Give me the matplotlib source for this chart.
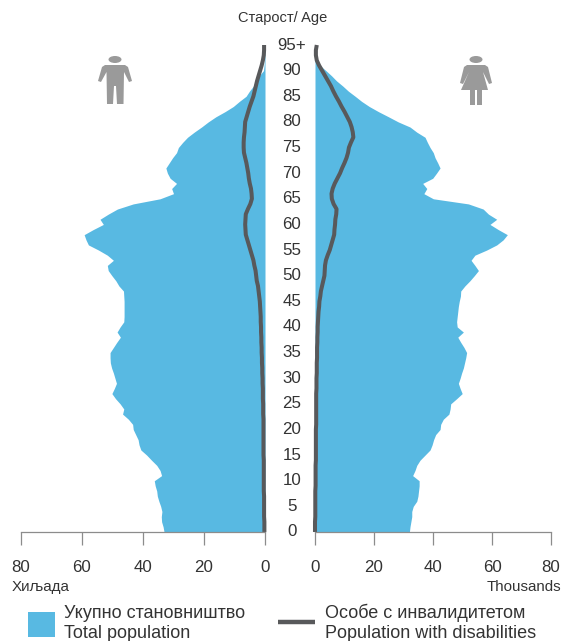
import matplotlib
matplotlib.use('Agg')
import matplotlib.pyplot as plt
from matplotlib.patches import Ellipse, Polygon, Rectangle

plt.rcParams['font.family'] = ['Liberation Sans', 'DejaVu Sans']

ages = list(range(0, 96))
male_total = [33.1, 33.4, 33.9, 34, 33.8, 34.2, 34.8, 35.3, 35.5, 36,
              36.3, 33.9, 34.4, 35.5, 37.2, 38.8, 40.7, 41.3, 41.6, 42.4,
              43.2, 43.4, 44.8, 46.7, 46.3, 47.5, 49, 50.2, 49.4, 48.7,
              49.2, 49.7, 50.3, 50.7, 50.8, 50.8, 49.7, 48.6, 47.4, 48.5,
              47.5, 46.3, 46.2, 46.2, 46.2, 46.2, 46.3, 46.4, 47.9, 48.9,
              50.2, 51.4, 51.7, 49.7, 51.7, 54.6, 57.9, 58.7, 59.3, 56.3,
              53, 54.1, 51.4, 48.4, 43.2, 34.4, 30, 30.6, 29, 31.1,
              32, 32.5, 31.4, 30.3, 29, 28.4, 27, 25.4, 23.2, 20.8,
              18.6, 16.1, 13.1, 10.4, 8.4, 6.2, 5.1, 3.8, 3.1, 1.9,
              0.5, 0.3, 0.2, 0.1, 0.1, 0]
female_total = [32, 32.2, 32.5, 32.8, 32.8, 33.3, 34.5, 34.9, 35.1, 35.3,
                35.3, 33.1, 33.9, 34.5, 35.6, 37.3, 39, 39.7, 40.2, 40.9,
                42.4, 42.6, 43.5, 45.4, 45.8, 46, 48, 49.9, 49.2, 48.6,
                49.2, 49.7, 50.3, 50.7, 51.1, 51.4, 50.5, 49.4, 48.4, 50.3,
                48.2, 48, 48.2, 48.4, 48.6, 48.9, 49.3, 49.4, 50.8, 52.5,
                54, 55.4, 54.2, 52.9, 54.2, 58.2, 61.6, 63.8, 65.2, 62.1,
                59.3, 61.6, 58.8, 57, 52, 40.1, 36.9, 37.9, 36.5, 39.9,
                41.2, 42.4, 41.6, 40.7, 40.1, 39, 38.1, 37.3, 34.5, 32.2,
                28.2, 24.9, 21.5, 18.4, 15.8, 13.6, 11.3, 9.4, 7.3, 5.6,
                3.7, 1.7, 0.6, 0.2, 0.1, 0]
male_disab = [0.2, 0.2, 0.2, 0.3, 0.3, 0.3, 0.3, 0.3, 0.4, 0.4,
              0.4, 0.4, 0.4, 0.4, 0.4, 0.5, 0.5, 0.5, 0.5, 0.5,
              0.5, 0.5, 0.5, 0.6, 0.6, 0.6, 0.7, 0.7, 0.7, 0.8,
              0.8, 0.9, 0.9, 1, 1, 1.1, 1.1, 1.2, 1.2, 1.3,
              1.3, 1.4, 1.4, 1.5, 1.6, 1.7, 1.9, 2.1, 2.3, 2.7,
              2.9, 3.1, 3.5, 3.8, 4.3, 4.8, 5.3, 5.8, 6.3, 6.4,
              6.5, 6.4, 6.3, 5.6, 4.8, 4.3, 4.4, 4.6, 5, 5.3,
              5.5, 5.8, 6.1, 6.5, 6.9, 7, 7, 6.9, 6.7, 6.6,
              6.5, 6, 5.5, 5, 4.4, 3.8, 3.4, 3, 2.6, 2.1,
              1.6, 1.1, 0.7, 0.4, 0.3, 0.3]
female_disab = [0, 0, 0, 0.1, 0.1, 0.1, 0.1, 0.1, 0.1, 0.2,
                0.2, 0.2, 0.2, 0.2, 0.3, 0.3, 0.3, 0.3, 0.3, 0.3,
                0.3, 0.4, 0.4, 0.4, 0.4, 0.4, 0.4, 0.4, 0.5, 0.5,
                0.5, 0.6, 0.6, 0.6, 0.7, 0.7, 0.7, 0.8, 0.8, 0.9,
                0.9, 1, 1.1, 1.2, 1.4, 1.5, 1.8, 2, 2.4, 2.8,
                3.2, 3.3, 3.4, 3.7, 4.3, 5, 5.5, 6, 6.5, 6.6,
                6.8, 6.9, 7.2, 7.3, 6.3, 5.7, 5.6, 6, 6.7, 7.6,
                8.5, 9.2, 10, 10.7, 11.2, 11.5, 12.2, 13, 12.8, 12.4,
                11.8, 10.9, 10, 9, 8.1, 7.1, 6.2, 5.4, 4.4, 3.4,
                2.4, 1.4, 0.6, 0.3, 0.3, 0.6]

age_ticks = [0, 5, 10, 15, 20, 25, 30, 35, 40, 45, 50, 55, 60, 65, 70, 75, 80, 85, 90, 95]
age_labels = ['0', '5', '10', '15', '20', '25', '30', '35', '40', '45',
              '50', '55', '60', '65', '70', '75', '80', '85', '90', '95+']
x_ticks = [0, 20, 40, 60, 80]

W, H = 561, 641
BLUE = '#58B9E2'
DARK = '#58595B'
GRAY = '#8C8C8C'
ICON = '#9A9A9A'
TXT = '#333333'
FS = 12.2

fig = plt.figure(figsize=(W / 100, H / 100), dpi=100)


def px_axes(x0, x1, ytop, ybot):
    return fig.add_axes([x0 / W, 1 - ybot / H, (x1 - x0) / W, (ybot - ytop) / H])


ytop, ybot = 45.0, 532.0
ax_l = px_axes(21, 265, ytop, ybot)
ax_r = px_axes(315, 551, ytop, ybot)

ax_l.fill_betweenx(ages, 0, male_total, color=BLUE, lw=0)
ax_l.plot(male_disab, ages, color=DARK, lw=2.9, solid_capstyle='butt', clip_on=False)
ax_l.set_xlim(80, 0)

ax_r.fill_betweenx(ages, 0, female_total, color=BLUE, lw=0)
ax_r.plot(female_disab, ages, color=DARK, lw=2.9, solid_capstyle='butt', clip_on=False)
ax_r.set_xlim(0, 80)

for ax in (ax_l, ax_r):
    ax.set_ylim(0, 95)
    ax.set_yticks([])
    ax.set_xticks(x_ticks)
    ax.tick_params(axis='x', length=9.6, width=0.9, color=GRAY, pad=10.5,
                   labelsize=FS, labelcolor=TXT)
    for s in ('top', 'left', 'right'):
        ax.spines[s].set_visible(False)
    ax.spines['bottom'].set_color(GRAY)
    ax.spines['bottom'].set_linewidth(0.9)
    ax.patch.set_alpha(0)

for a, lab in zip(age_ticks, age_labels):
    ax_r.text(-7.8, a, lab, ha='center', va='center', fontsize=FS, color=TXT, clip_on=False)

# overlay in pixel coords for the title, notes, legend and icons
ov = fig.add_axes([0, 0, 1, 1], zorder=5)
ov.set_xlim(0, W)
ov.set_ylim(H, 0)
ov.axis('off')

ov.text(283, 18, 'Старост/ Age', ha='center', va='center', fontsize=10.5, color=TXT)
ov.text(12, 587, 'Хиљада', ha='left', va='center', fontsize=10.9, color=TXT)
ov.text(561, 587, 'Thousands', ha='right', va='center', fontsize=10.9, color=TXT)

ov.add_patch(Rectangle((28, 612), 27, 24.5, color=BLUE, lw=0))
ov.text(64, 613, 'Укупно становништво', ha='left', va='center', fontsize=13, color=TXT)
ov.text(64, 633, 'Total population', ha='left', va='center', fontsize=13, color=TXT)
ov.plot([278, 315], [622, 622], color=DARK, lw=3.2, solid_capstyle='butt')
ov.text(325, 613, 'Особе с инвалидитетом', ha='left', va='center', fontsize=13, color=TXT)
ov.text(325, 633, 'Population with disabilities', ha='left', va='center', fontsize=13, color=TXT)

# man icon
ov.add_patch(Ellipse((115, 59.5), 13, 7, color=ICON, lw=0))
ov.add_patch(Polygon([(105, 65), (125, 65), (128, 67), (132, 81), (129, 82), (124, 72),
                      (123.5, 104), (117, 104), (116, 86), (114, 86), (113, 104), (107, 104),
                      (106.5, 72), (101, 82), (98, 81), (102, 67)], color=ICON, lw=0))
# woman icon
ov.add_patch(Ellipse((476, 59.5), 13, 7, color=ICON, lw=0))
ov.add_patch(Polygon([(467, 65), (485, 65), (488, 67), (492, 83), (489, 84), (483, 72),
                      (488, 90), (482, 90), (482, 105), (477, 105), (477, 90), (475, 90),
                      (475, 105), (470, 105), (470, 90), (461, 90), (469, 72), (463, 84),
                      (460, 83), (464, 67)], color=ICON, lw=0))

fig.savefig('out.png', dpi=100)
